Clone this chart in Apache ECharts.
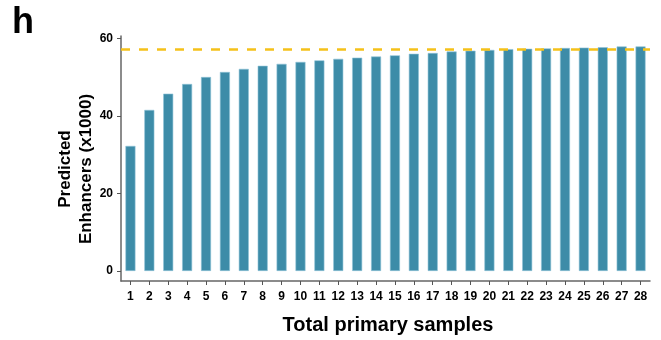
<!DOCTYPE html>
<html>
<head>
<meta charset="utf-8">
<script src="https://cdn.jsdelivr.net/npm/echarts@6/dist/echarts.min.js"></script>
<style>html,body{margin:0;padding:0;background:#fff;}#c{width:661px;height:340px;}</style>
</head>
<body>
<div id="c"></div>
<script>
const categories = ['1','2','3','4','5','6','7','8','9','10','11','12','13','14','15','16','17','18','19','20','21','22','23','24','25','26','27','28'];
const enhancers = [32.3,41.6,45.8,48.3,50.1,51.4,52.2,53.0,53.5,54.0,54.4,54.8,55.1,55.4,55.7,56.1,56.3,56.7,56.9,57.1,57.3,57.4,57.5,57.6,57.7,57.8,58.0,58.0];
const yTicks = [0,20,40,60];
const saturation = 57.3;

const FONT = '"Liberation Sans", Arial, sans-serif';
const chart = echarts.init(document.getElementById('c'), null, {renderer:'canvas'});
chart.setOption({
  animation:false,
  backgroundColor:'#fff',
  grid:{left:121, right:11, top:36, bottom:59},
  xAxis:{
    type:'category', data:categories, boundaryGap:true,
    axisLine:{show:true, onZero:false, lineStyle:{color:'#666', width:1.5}},
    axisTick:{show:true, alignWithLabel:true, length:4, lineStyle:{color:'#555', width:1}},
    axisLabel:{interval:0, margin:10, color:'#000', fontWeight:'bold', fontSize:12, fontFamily:FONT},
    splitLine:{show:false}
  },
  yAxis:{
    type:'value', min:-2.6, max:60.7,
    axisLine:{show:true, onZero:false, lineStyle:{color:'#666', width:1.5}},
    axisTick:{show:true, length:4, customValues:yTicks, lineStyle:{color:'#555', width:1}},
    axisLabel:{customValues:yTicks, margin:8, color:'#000', fontWeight:'bold', fontSize:12, fontFamily:FONT},
    splitLine:{show:false}
  },
  series:[{
    type:'bar', data:enhancers, barWidth:10,
    itemStyle:{color:'#3d8ca8', borderColor:'#8fc3d6', borderWidth:0.6},
    markLine:{
      silent:true, symbol:'none', z:10,
      label:{show:false},
      lineStyle:{color:'#f5c11a', type:[9,9], width:2.5},
      data:[{yAxis:saturation}]
    }
  }],
  graphic:[
    {type:'text', left:12, top:5, style:{text:'h', font:'bold 36px '+FONT, fill:'#000'}},
    {type:'text', x:65, y:169, rotation:Math.PI/2, style:{text:'Predicted', font:'bold 17px '+FONT, fill:'#000', textAlign:'center', textVerticalAlign:'middle'}},
    {type:'text', x:86, y:169, rotation:Math.PI/2, style:{text:'Enhancers (x1000)', font:'bold 17px '+FONT, fill:'#000', textAlign:'center', textVerticalAlign:'middle'}},
    {type:'text', x:388, y:325, style:{text:'Total primary samples', font:'bold 20px '+FONT, fill:'#000', textAlign:'center', textVerticalAlign:'middle'}}
  ]
});
</script>
</body>
</html>
